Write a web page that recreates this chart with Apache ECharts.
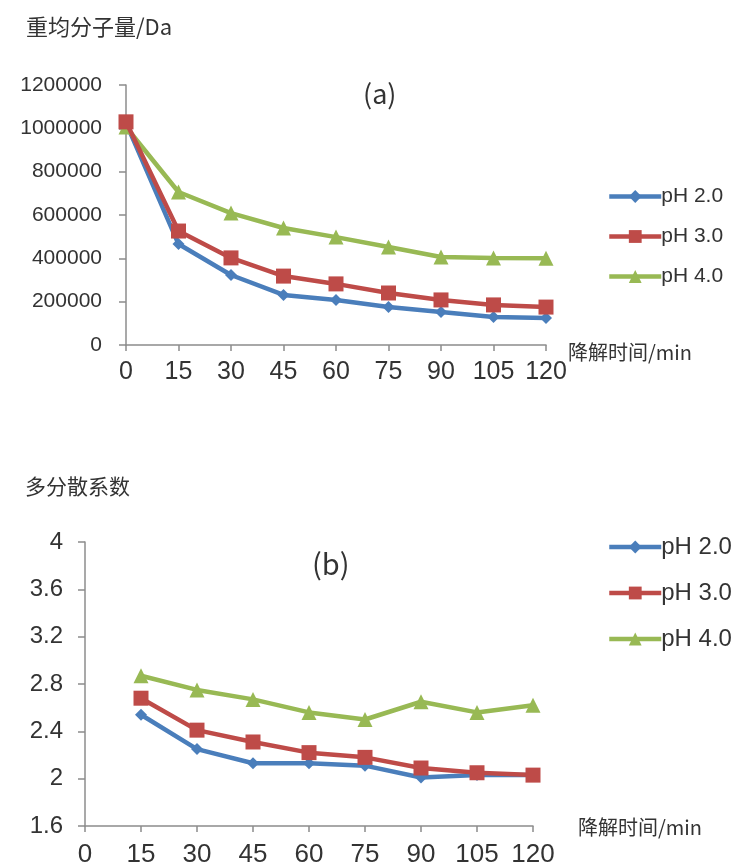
<!DOCTYPE html>
<html>
<head>
<meta charset="utf-8">
<script src="https://cdn.jsdelivr.net/npm/echarts@6/dist/echarts.min.js"></script>
<style>
  html, body { margin: 0; padding: 0; background: #fff; }
  #main { width: 732px; height: 868px; }
</style>
</head>
<body>
<div id="main"></div>
<script>
// 降解时间 (min)
var timesA = [0, 15, 30, 45, 60, 75, 90, 105, 120];
var timesB = [15, 30, 45, 60, 75, 90, 105, 120];

// (a) 重均分子量/Da
var mwPH2 = [1025000, 466000, 323000, 231000, 208000, 175000, 152000, 129000, 125000];
var mwPH3 = [1030000, 526000, 402000, 318000, 282000, 240000, 208000, 185000, 175000];
var mwPH4 = [1006000, 706000, 609000, 540000, 498000, 452000, 406000, 402000, 400000];

// (b) 多分散系数
var pdiPH2 = [2.54, 2.25, 2.13, 2.13, 2.11, 2.01, 2.03, 2.03];
var pdiPH3 = [2.68, 2.41, 2.31, 2.22, 2.18, 2.09, 2.05, 2.03];
var pdiPH4 = [2.87, 2.75, 2.67, 2.56, 2.50, 2.65, 2.56, 2.62];

var names = ['pH 2.0', 'pH 3.0', 'pH 4.0'];
var colors = ['#4A7EBB', '#BE4B48', '#98B954'];
var symbols = ['diamond', 'rect', 'triangle'];
var symbolSizes = [12, 15, 15];

var axisColor = '#8c8c8c';
var textColor = '#333';
var font = 'Arial, "Liberation Sans", sans-serif';

function pairs(xs, ys) {
    return xs.map(function (x, i) { return [x, ys[i]]; });
}

function makeSeries(idx, ys, xs, i) {
    return {
        name: names[i],
        type: 'line',
        xAxisIndex: idx,
        yAxisIndex: idx,
        data: pairs(xs, ys),
        symbol: symbols[i],
        symbolSize: symbolSizes[i],
        showAllSymbol: true,
        lineStyle: { color: colors[i], width: 4.5 },
        itemStyle: { color: colors[i] },
        z: 2 + (i === 1 ? 1 : 0)
    };
}

function xAxisCfg(idx, fontSize, margin) {
    return {
        type: 'value', gridIndex: idx, min: 0, max: 120, interval: 15,
        axisLine: { show: true, lineStyle: { color: axisColor, width: 1.5 } },
        axisTick: { show: true, inside: false, length: 6, lineStyle: { color: axisColor, width: 1.5 } },
        axisLabel: { fontSize: fontSize, color: textColor, fontFamily: font, margin: margin },
        splitLine: { show: false }
    };
}

function yAxisCfg(idx, min, max, interval, fontSize, margin) {
    return {
        type: 'value', gridIndex: idx, min: min, max: max, interval: interval,
        axisLine: { show: true, lineStyle: { color: axisColor, width: 1.5 } },
        axisTick: { show: true, inside: false, length: 7, lineStyle: { color: axisColor, width: 1.5 } },
        axisLabel: {
            fontSize: fontSize, color: textColor, fontFamily: font, margin: margin,
            formatter: function (v) { return String(+v.toFixed(2)); }
        },
        splitLine: { show: false }
    };
}

function legendCfg(top, gap, fontSize) {
    return {
        data: names,
        orient: 'vertical',
        left: 602,
        top: top,
        itemWidth: 52,
        itemHeight: 16,
        itemGap: gap,
        lineStyle: { width: 4.5 },
        textStyle: { fontSize: fontSize, color: textColor, fontFamily: font, padding: [0, 0, 0, -5] }
    };
}

function txt(x, y, s, size) {
    return {
        type: 'text', left: x, top: y,
        style: { text: s, fontSize: size, fill: textColor, fontFamily: '"Noto Sans CJK SC", Arial, sans-serif' }
    };
}

var chart = echarts.init(document.getElementById('main'));

var series = [];
[mwPH2, mwPH3, mwPH4].forEach(function (ys, i) { series.push(makeSeries(0, ys, timesA, i)); });
[pdiPH2, pdiPH3, pdiPH4].forEach(function (ys, i) { series.push(makeSeries(1, ys, timesB, i)); });

chart.setOption({
    backgroundColor: '#fff',
    animation: false,
    grid: [
        { left: 126, top: 85, width: 420, height: 260 },
        { left: 85, top: 542, width: 448, height: 286 }
    ],
    xAxis: [xAxisCfg(0, 25, 15), xAxisCfg(1, 26, 16)],
    yAxis: [
        yAxisCfg(0, 0, 1200000, 200000, 21, 24),
        yAxisCfg(1, 1.6, 4, 0.4, 24, 22)
    ],
    legend: [legendCfg(181, 19, 21), legendCfg(530, 22, 24)],
    series: series,
    graphic: [
        txt(26, 16, '重均分子量/Da', 22),
        txt(363, 80, '(a)', 27),
        txt(568, 342, '降解时间/min', 20),
        txt(25, 476, '多分散系数', 21),
        txt(312, 549, '(b)', 29),
        txt(578, 817, '降解时间/min', 20)
    ]
});
</script>
</body>
</html>
